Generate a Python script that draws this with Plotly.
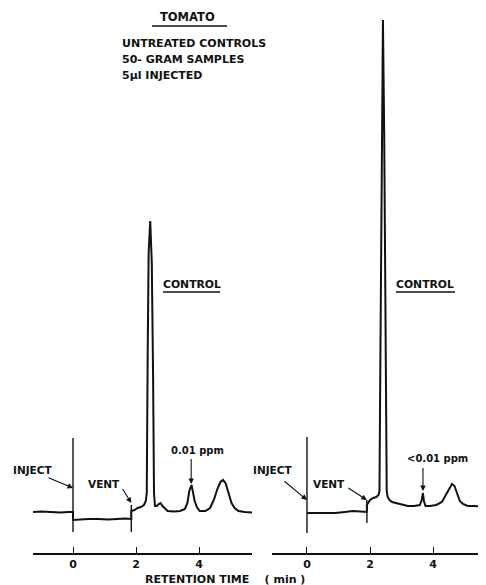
import plotly.graph_objects as go

# ---------------- data (chart units) ----------------
# retention time (min) and detector response (arbitrary chart units)
t_left = [-1.27, -1.0, -0.7, -0.4, -0.15, 0.0, 0.0, 0.2, 0.5, 0.8, 1.1, 1.4, 1.65, 1.85,
          1.85, 1.95, 2.05, 2.15, 2.25, 2.31, 2.34, 2.37, 2.40, 2.45, 2.50, 2.54, 2.57, 2.60,
          2.66, 2.72, 2.78, 2.84, 2.92, 3.0, 3.2, 3.4, 3.55, 3.63, 3.69, 3.73, 3.76, 3.8,
          3.86, 3.93, 4.02, 4.2, 4.35, 4.48, 4.58, 4.68, 4.76, 4.84, 4.93, 5.03, 5.13,
          5.25, 5.45, 5.68]
y_left = [41, 41.5, 41, 40.5, 41, 41, 33, 33.5, 34, 34, 33.5, 34, 34.5, 34,
          42, 43, 45, 46, 48, 52, 60, 200, 300, 332, 290, 180, 60, 47,
          47, 49, 50, 47, 44, 42, 41.5, 42, 44, 50, 62, 67, 68, 62,
          52, 46, 42, 42, 45, 54, 64, 71, 73, 70, 61, 50, 45,
          42, 41, 40.5]

t_right = [0.0, 0.3, 0.6, 0.9, 1.2, 1.45, 1.7, 1.9, 1.9, 2.0, 2.1, 2.2, 2.27, 2.30,
           2.33, 2.37, 2.41, 2.45, 2.49, 2.53, 2.56, 2.62, 2.7, 2.85, 3.0, 3.2, 3.4,
           3.58, 3.64, 3.68, 3.71, 3.76, 3.9, 4.1, 4.28, 4.4, 4.5, 4.6, 4.68, 4.76,
           4.85, 4.95, 5.1, 5.3, 5.5, 5.68]
y_right = [40, 40, 40.5, 40, 41, 42, 41.5, 41, 48, 53, 55, 56, 58, 62,
           200, 420, 533, 420, 200, 62, 56, 53, 51, 50, 49, 47, 47,
           48, 53, 60, 52, 47, 47, 48, 51, 58, 64, 69, 67, 59,
           52, 49, 47, 47, 46.5, 47]

# event marks drawn by the recorder (time, lower, upper response)
inject_left = ([0.0, 0.0], [21, 115])
vent_left = ([1.85, 1.85], [21, 48])
inject_right = ([0.0, 0.0], [20, 116])
vent_right = ([1.9, 1.9], [30, 53])

tick_vals = [0, 2, 4]
tick_text = ["0", "2", "4"]

title = "TOMATO"
subtitle_lines = ["UNTREATED CONTROLS", "50- GRAM SAMPLES", "5\u03bcl INJECTED"]
x_title = "RETENTION TIME&nbsp;&nbsp;&nbsp;&nbsp;( min )"

# ---------------- figure ----------------
OFF = 8                      # page body margin of the browser
W, H = 486 - OFF, 585 - OFF  # figure size so that it fills the window
INK = "#111111"
FONT = "DejaVu Sans"


def P(px, py):
    """window pixel -> paper coordinate"""
    return (px - OFF) / W, 1 - (py - OFF) / H


fig = go.Figure()
line = dict(color=INK, width=2)
fig.add_trace(go.Scatter(x=t_left, y=y_left, mode="lines", line=line, xaxis="x", yaxis="y"))
fig.add_trace(go.Scatter(x=t_right, y=y_right, mode="lines", line=line, xaxis="x2", yaxis="y"))
for (xs, ys), ax in [(inject_left, "x"), (vent_left, "x"), (inject_right, "x2"), (vent_right, "x2")]:
    fig.add_trace(go.Scatter(x=xs, y=ys, mode="lines", line=dict(color=INK, width=1.4),
                             xaxis=ax, yaxis="y"))

axis_common = dict(
    showgrid=False, zeroline=False, showline=True, linecolor=INK, linewidth=1.5,
    ticks="inside", ticklen=6, tickwidth=1.2, tickcolor=INK,
    tickvals=tick_vals, ticktext=tick_text,
    tickfont=dict(family=FONT, size=11, color=INK, weight="bold"), anchor="y",
)
fig.update_layout(
    width=W, height=H, margin=dict(l=0, r=0, t=0, b=0),
    paper_bgcolor="white", plot_bgcolor="white", showlegend=False,
    xaxis=dict(domain=[P(33, 0)[0], P(252, 0)[0]], range=[-1.27, 5.68], **axis_common),
    xaxis2=dict(domain=[P(272, 0)[0], 1.0], range=[-1.11, 5.68], **axis_common),
    yaxis=dict(domain=[P(0, 553)[1], 1.0], range=[0, 553 - OFF], visible=False),
)

ann = []


def text(s, px, py, size=10.5, xanchor="center"):
    x, y = P(px, py)
    ann.append(dict(text=s, x=x, y=y, xref="paper", yref="paper", showarrow=False,
                    xanchor=xanchor, yanchor="middle",
                    font=dict(family=FONT, size=size, color=INK, weight="bold")))


def arrow(xref, tx, ty, dx, dy):
    ann.append(dict(text=" ", x=tx, y=ty, xref=xref, yref="y", ax=dx, ay=dy,
                    showarrow=True, arrowhead=2, arrowsize=1, arrowwidth=1.1,
                    arrowcolor=INK, font=dict(size=1)))


text(title, 187, 17, size=11.5)
for i, s in enumerate(subtitle_lines):
    text(s, 120, 43 + 16 * i, size=11, xanchor="left")
text("CONTROL", 192, 284, size=10.8)
text("CONTROL", 425, 284, size=10.8)
text("INJECT", 32, 470, size=10.5)
text("VENT", 104, 484, size=10.5)
text("0.01 ppm", 197, 450, size=10)
text("INJECT", 272, 470, size=10.5)
text("VENT", 329, 484, size=10.5)
text("<0.01 ppm", 437, 458, size=10)
text(x_title, 143, 579, size=11, xanchor="left")

arrow("x", 0.0, 65, -26, -11)
arrow("x", 1.85, 50, -10, -16)
arrow("x", 3.75, 69, 0, -27)
arrow("x2", 0.0, 53, -24, -20)
arrow("x2", 1.9, 53, -20, -13)
arrow("x2", 3.68, 62, 0, -25)

fig.update_layout(annotations=ann)

# underlines
shapes = []
for x0, x1, yy in [(152, 227, 26), (163, 220, 292), (396, 455, 292)]:
    a, b = P(x0, yy)
    c, _ = P(x1, yy)
    shapes.append(dict(type="line", xref="paper", yref="paper", x0=a, x1=c, y0=b, y1=b,
                       line=dict(color=INK, width=1.4)))
fig.update_layout(shapes=shapes)

fig.write_html("out.html")
